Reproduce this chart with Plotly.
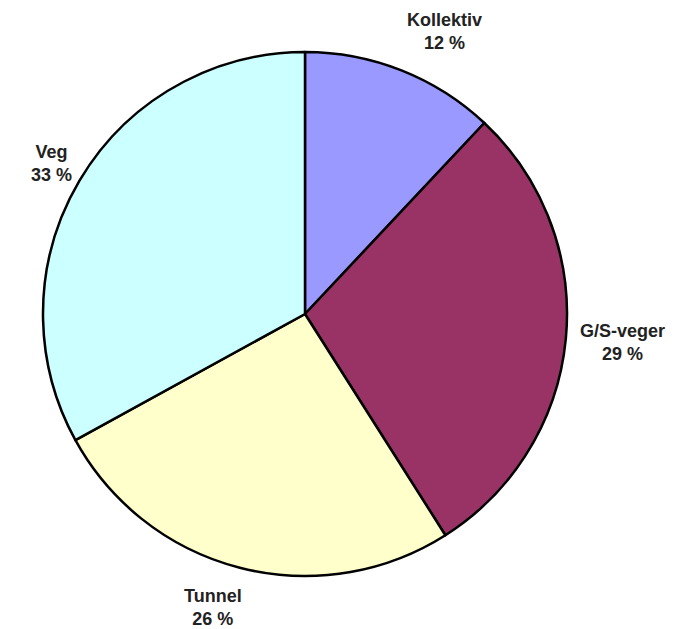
import math
import plotly.graph_objects as go

labels = ["Kollektiv", "G/S-veger", "Tunnel", "Veg"]
values = [12, 29, 26, 33]
colors = ["#9999FF", "#993366", "#FFFFCC", "#CCFFFF"]

W, H = 675, 629
OFF = 8  # page body margin
cx, cy, r = 305 - OFF, 314 - OFF, 262

# small pixel nudges for label placement (layout only)
nudge = {"Kollektiv": (0, 6), "G/S-veger": (2, -3), "Tunnel": (7, -7), "Veg": (3, 12)}

fig = go.Figure(go.Pie(
    labels=labels, values=values, sort=False, direction="clockwise", rotation=0,
    marker=dict(colors=colors, line=dict(color="black", width=2.5)),
    textinfo="none", hoverinfo="label+percent", showlegend=False,
    domain=dict(x=[(cx - r) / W, (cx + r) / W], y=[1 - (cy + r) / H, 1 - (cy - r) / H]),
))

total = sum(values)
cum = 0
anns = []
for lab, v in zip(labels, values):
    mid = (cum + v / 2) / total * 2 * math.pi
    cum += v
    s, c = math.sin(mid), math.cos(mid)
    rr = r + 10
    px = cx + rr * s
    py = cy - rr * c
    xa = "left" if s > 0 else "right"
    ya = "bottom" if c > 0.8 else ("top" if c < -0.8 else "middle")
    dx, dy = nudge[lab]
    anns.append(dict(
        x=px / W, y=1 - py / H, xref="paper", yref="paper",
        text=f"<b>{lab}<br>{round(v / total * 100)} %</b>", showarrow=False,
        xanchor=xa, yanchor=ya, align="center", xshift=dx, yshift=dy,
        font=dict(family="Liberation Sans, Arial, sans-serif", size=18, color="#222222"),
    ))

fig.update_layout(
    width=W, height=H, margin=dict(l=0, r=0, t=0, b=0),
    paper_bgcolor="white", plot_bgcolor="white", annotations=anns,
)
fig.write_html("out.html")
